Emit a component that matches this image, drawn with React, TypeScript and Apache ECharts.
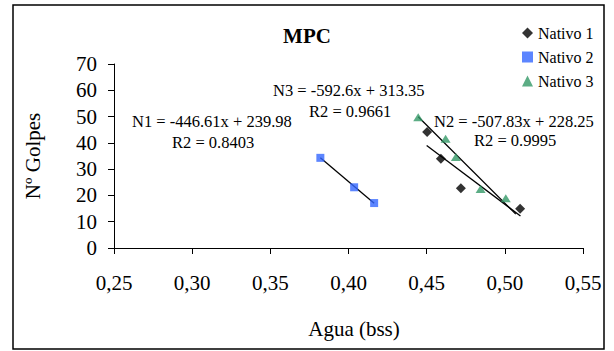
import React, { useEffect, useRef } from "react";
import * as echarts from "echarts";

const seriesNames = ["Nativo 1", "Nativo 2", "Nativo 3"];

const nativo1: [number, number][] = [
  [0.4503, 44.1],
  [0.4591, 34.0],
  [0.4719, 22.7],
  [0.5098, 14.9],
];
const nativo2: [number, number][] = [
  [0.382, 34.3],
  [0.4036, 23.1],
  [0.4164, 17.1],
];
const nativo3: [number, number][] = [
  [0.4446, 49.7],
  [0.4621, 41.6],
  [0.4687, 34.6],
  [0.4845, 22.4],
  [0.5006, 18.9],
];

// trend lines (end points)
const trend1: [number, number][] = [
  [0.45, 39.0],
  [0.51, 12.2],
];
const trend2: [number, number][] = [
  [0.382, 34.3],
  [0.4164, 17.0],
];
const trend3: [number, number][] = [
  [0.4446, 49.9],
  [0.507, 12.9],
];

const equationTexts = [
  "N1 = -446.61x + 239.98",
  "R2 = 0.8403",
  "N3 = -592.6x + 313.35",
  "R2 = 0.9661",
  "N2 = -507.83x + 228.25",
  "R2 = 0.9995",
];

const FONT = "Liberation Serif, Times New Roman, serif";

export default function App() {
  const ref = useRef<HTMLDivElement>(null);
  useEffect(() => {
    if (!ref.current) return;
    const chart = echarts.init(ref.current, null, { renderer: "svg" });
    const eqPos = [
      [132, 121.7],
      [172, 142.7],
      [273, 90.7],
      [309, 111.7],
      [434, 121.7],
      [474, 140],
    ];
    const trendSeries = [trend1, trend2, trend3].map((d, i) => ({
      name: "trend" + (i + 1),
      type: "line",
      data: d,
      symbol: "none",
      lineStyle: { color: "#000", width: 1.3 },
      z: 1,
    }));
    chart.setOption({
      animation: false,
      backgroundColor: "#fff",
      textStyle: { fontFamily: FONT },
      title: {
        text: "MPC",
        left: "center",
        top: 20,
        textStyle: { fontFamily: FONT, fontSize: 21, fontWeight: "bold", color: "#000" },
      },
      legend: {
        orient: "vertical",
        left: 517,
        top: 20,
        itemGap: 8,
        itemWidth: 11,
        itemHeight: 11,
        data: seriesNames,
        textStyle: { fontFamily: FONT, fontSize: 16, color: "#000" },
      },
      grid: { left: 114, right: 31, top: 64, bottom: 103 },
      xAxis: {
        type: "value",
        min: 0.25,
        max: 0.55,
        interval: 0.05,
        name: "Agua (bss)",
        nameLocation: "middle",
        nameGap: 70,
        nameTextStyle: { fontFamily: FONT, fontSize: 21, color: "#000", padding: [0, 0, 0, 11] },
        axisLine: { lineStyle: { color: "#000", width: 1 } },
        axisTick: { show: true, length: 6, lineStyle: { color: "#000" } },
        splitLine: { show: false },
        axisLabel: {
          fontFamily: FONT,
          fontSize: 21,
          color: "#000",
          margin: 24,
          formatter: (v: number) => v.toFixed(2).replace(".", ","),
        },
      },
      yAxis: {
        type: "value",
        min: 0,
        max: 70,
        interval: 10,
        name: "Nº Golpes",
        nameLocation: "middle",
        nameGap: 71,
        nameTextStyle: { fontFamily: FONT, fontSize: 21, color: "#000" },
        axisLine: { show: true, lineStyle: { color: "#000", width: 1 } },
        axisTick: { show: true, length: 6, lineStyle: { color: "#000" } },
        splitLine: { show: false },
        axisLabel: { fontFamily: FONT, fontSize: 21, color: "#000", margin: 17 },
      },
      graphic: [
        {
          type: "rect",
          shape: { x: 13, y: 5, width: 591, height: 344 },
          style: { fill: "none", stroke: "#000", lineWidth: 1.5 },
          silent: true,
        },
        ...equationTexts.map((t, i) => ({
          type: "text",
          x: eqPos[i][0],
          y: eqPos[i][1],
          style: {
            text: t,
            fontFamily: FONT,
            fontSize: 16.5,
            fill: "#000",
            verticalAlign: "middle",
          },
          z: 10,
        })),
      ],
      series: [
        ...trendSeries,
        {
          name: "Nativo 1",
          type: "scatter",
          data: nativo1,
          symbol: "diamond",
          symbolSize: 10,
          itemStyle: { color: "#000" },
          z: 3,
        },
        {
          name: "Nativo 2",
          type: "scatter",
          data: nativo2,
          symbol: "rect",
          symbolSize: 8,
          itemStyle: { color: "#3366FF" },
          z: 3,
        },
        {
          name: "Nativo 3",
          type: "scatter",
          data: nativo3,
          symbol: "triangle",
          symbolSize: [10, 8],
          itemStyle: { color: "#339966" },
          z: 3,
        },
      ],
    });
    return () => chart.dispose();
  }, []);
  return (
    <div
      ref={ref}
      style={{ position: "fixed", left: 0, top: 0, width: 614, height: 351, background: "#fff" }}
    />
  );
}
